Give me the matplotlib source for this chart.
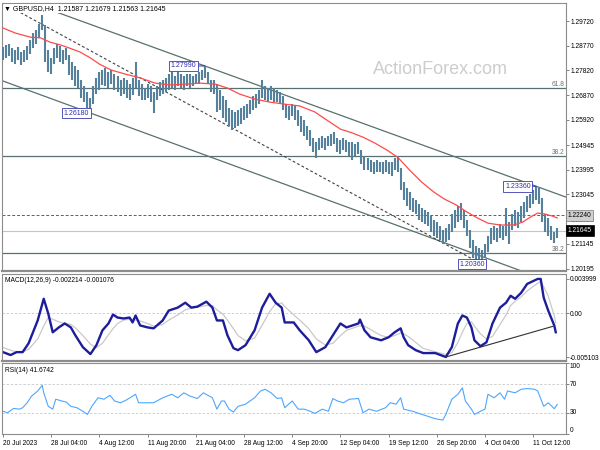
import matplotlib.pyplot as plt
import numpy as np

plt.rcParams['font.family'] = ['Liberation Sans', 'DejaVu Sans']

# GBPUSD H4, one entry per two bars (entry 0 = 20 Jul 2023)
bar_high = [
    1.2872, 1.2880, 1.2883, 1.2868, 1.2860, 1.2872, 1.2853, 1.2860, 1.2876, 1.2899,
    1.2926, 1.2937, 1.2960, 1.2995, 1.2957, 1.2860, 1.2830, 1.2868, 1.2883, 1.2876,
    1.2860, 1.2868, 1.2841, 1.2814, 1.2799, 1.2783, 1.2745, 1.2722, 1.2699, 1.2676,
    1.2722, 1.2753, 1.2776, 1.2783, 1.2791, 1.2776, 1.2783, 1.2768, 1.2760, 1.2745,
    1.2753, 1.2745, 1.2729, 1.2753, 1.2814, 1.2745, 1.2729, 1.2714, 1.2729, 1.2722,
    1.2699, 1.2722, 1.2737, 1.2745, 1.2753, 1.2768, 1.2776, 1.2760, 1.2776, 1.2768,
    1.2760, 1.2768, 1.2768, 1.2760, 1.2768, 1.2776, 1.2783, 1.2799, 1.2776, 1.2745,
    1.2745, 1.2729, 1.2706, 1.2683, 1.2668, 1.2637, 1.2629, 1.2622, 1.2629, 1.2637,
    1.2645, 1.2652, 1.2668, 1.2683, 1.2691, 1.2706, 1.2745, 1.2722, 1.2714, 1.2722,
    1.2714, 1.2706, 1.2699, 1.2683, 1.2652, 1.2645, 1.2652, 1.2645, 1.2629, 1.2606,
    1.2591, 1.2568, 1.2552, 1.2522, 1.2506, 1.2522, 1.2529, 1.2522, 1.2529, 1.2537,
    1.2545, 1.2522, 1.2514, 1.2522, 1.2514, 1.2506, 1.2506, 1.2498, 1.2506, 1.2475,
    1.2452, 1.2445, 1.2437, 1.2429, 1.2437, 1.2429, 1.2429, 1.2437, 1.2429, 1.2429,
    1.2445, 1.2452, 1.2406, 1.2352, 1.2329, 1.2314, 1.2291, 1.2283, 1.2267, 1.2252,
    1.2244, 1.2237, 1.2221, 1.2206, 1.2198, 1.2183, 1.2167, 1.2175, 1.2190, 1.2229,
    1.2244, 1.2260, 1.2271, 1.2244, 1.2206, 1.2167, 1.2129, 1.2106, 1.2098, 1.2090,
    1.2113, 1.2144, 1.2175, 1.2183, 1.2175, 1.2190, 1.2183, 1.2252, 1.2198, 1.2229,
    1.2244, 1.2237, 1.2260, 1.2275, 1.2298, 1.2306, 1.2321, 1.2336, 1.2329, 1.2291,
    1.2229, 1.2214, 1.2183, 1.2159, 1.2175,
]
bar_low = [
    1.2822, 1.2830, 1.2837, 1.2814, 1.2806, 1.2822, 1.2803, 1.2814, 1.2822, 1.2845,
    1.2868, 1.2883, 1.2907, 1.2937, 1.2814, 1.2776, 1.2768, 1.2806, 1.2830, 1.2814,
    1.2806, 1.2822, 1.2764, 1.2745, 1.2722, 1.2714, 1.2676, 1.2660, 1.2637, 1.2618,
    1.2652, 1.2691, 1.2706, 1.2726, 1.2722, 1.2714, 1.2729, 1.2706, 1.2699, 1.2683,
    1.2691, 1.2676, 1.2668, 1.2687, 1.2714, 1.2683, 1.2668, 1.2668, 1.2676, 1.2660,
    1.2618, 1.2668, 1.2683, 1.2691, 1.2699, 1.2706, 1.2714, 1.2706, 1.2722, 1.2714,
    1.2706, 1.2722, 1.2714, 1.2722, 1.2729, 1.2729, 1.2745, 1.2753, 1.2729, 1.2699,
    1.2691, 1.2622, 1.2629, 1.2599, 1.2583, 1.2568, 1.2552, 1.2560, 1.2568, 1.2575,
    1.2591, 1.2599, 1.2614, 1.2629, 1.2637, 1.2652, 1.2676, 1.2668, 1.2660, 1.2668,
    1.2660, 1.2660, 1.2652, 1.2629, 1.2599, 1.2591, 1.2606, 1.2591, 1.2568, 1.2545,
    1.2529, 1.2514, 1.2491, 1.2468, 1.2445, 1.2475, 1.2483, 1.2475, 1.2491, 1.2491,
    1.2498, 1.2468, 1.2460, 1.2475, 1.2468, 1.2452, 1.2437, 1.2452, 1.2460, 1.2421,
    1.2398, 1.2398, 1.2391, 1.2383, 1.2391, 1.2391, 1.2383, 1.2391, 1.2383, 1.2375,
    1.2398, 1.2391, 1.2321, 1.2283, 1.2260, 1.2244, 1.2237, 1.2229, 1.2206, 1.2198,
    1.2190, 1.2183, 1.2159, 1.2144, 1.2137, 1.2129, 1.2113, 1.2121, 1.2129, 1.2159,
    1.2175, 1.2198, 1.2206, 1.2175, 1.2144, 1.2098, 1.2060, 1.2044, 1.2044, 1.2036,
    1.2060, 1.2083, 1.2113, 1.2129, 1.2121, 1.2137, 1.2129, 1.2144, 1.2113, 1.2167,
    1.2183, 1.2175, 1.2198, 1.2214, 1.2237, 1.2252, 1.2267, 1.2283, 1.2267, 1.2198,
    1.2159, 1.2144, 1.2129, 1.2117, 1.2137,
]

# moving average (red)
ma_bar = [0, 8, 18, 25, 31, 38, 44, 51, 58, 64, 72, 81, 91, 101, 111, 121, 131, 141,
          149, 157, 167, 177, 187, 197, 207, 217, 224, 232, 239, 247, 255, 262, 270,
          278, 286, 293, 301, 308, 315, 322, 330, 339, 345, 350, 355, 360, 365, 368]
ma_value = [1.2945, 1.2926, 1.2910, 1.2907, 1.2891, 1.2880, 1.2868, 1.2853, 1.2830,
            1.2806, 1.2783, 1.2768, 1.2753, 1.2733, 1.2726, 1.2729, 1.2733, 1.2729,
            1.2714, 1.2691, 1.2672, 1.2660, 1.2652, 1.2645, 1.2622, 1.2583, 1.2556,
            1.2541, 1.2525, 1.2502, 1.2475, 1.2448, 1.2398, 1.2352, 1.2314, 1.2287,
            1.2264, 1.2237, 1.2214, 1.2194, 1.2187, 1.2187, 1.2198, 1.2217, 1.2233,
            1.2229, 1.2221, 1.2214]

macd_bar = [0, 5, 9, 13, 17, 23, 27, 30, 33, 37, 41, 45, 48, 53, 58, 62, 66, 70, 73,
            76, 80, 84, 86, 88, 91, 96, 100, 106, 110, 116, 121, 125, 129, 135, 139,
            142, 146, 149, 153, 156, 161, 167, 172, 177, 181, 185, 187, 193, 197, 203,
            208, 214, 219, 224, 228, 236, 237, 240, 244, 251, 256, 260, 264, 266, 269,
            274, 279, 287, 294, 298, 302, 305, 308, 311, 313, 317, 321, 325, 330, 334,
            337, 340, 344, 348, 355, 357, 359, 362, 366, 367]
macd_main = [-0.00453, -0.00487, -0.00453, -0.00453, -0.00349, -0.00084, 0.00169,
             -0.00003, -0.00222, -0.00165, -0.00119, -0.00165, -0.00257, -0.00395,
             -0.00476, -0.00372, -0.00199, -0.00119, -0.00015, -0.00050, -0.00061,
             -0.00050, -0.00107, -0.00026, -0.00142, -0.00165, -0.00176, -0.00084,
             0.00031, 0.00066, 0.00123, 0.00066, 0.00077, 0.00135, 0.00066, -0.00084,
             -0.00084, -0.00257, -0.00407, -0.00430, -0.00372, -0.00199, 0.00066,
             0.00227, 0.00123, 0.00066, -0.00107, -0.00107, -0.00199, -0.00315,
             -0.00453, -0.00395, -0.00257, -0.00119, -0.00165, -0.00119, -0.00073,
             -0.00199, -0.00280, -0.00315, -0.00280, -0.00222, -0.00176, -0.00280,
             -0.00372, -0.00430, -0.00464, -0.00464, -0.00510, -0.00395, -0.00119,
             -0.00026, -0.00050, -0.00165, -0.00315, -0.00384, -0.00338, -0.00119,
             0.00066, 0.00123, 0.00204, 0.00169, 0.00238, 0.00342, 0.00400, 0.00400,
             0.00181, 0.00031, -0.00142, -0.00221]
macd_signal = [-0.0040, -0.0043, -0.0045, -0.0045, -0.0042, -0.0030, -0.0015, -0.0005,
               -0.0007, -0.0010, -0.0012, -0.0013, -0.0017, -0.0026, -0.0036, -0.0040,
               -0.0035, -0.0025, -0.0018, -0.0012, -0.0008, -0.0007, -0.0007, -0.0008,
               -0.0009, -0.0012, -0.0015, -0.0013, -0.0008, -0.0002, 0.0004, 0.0006,
               0.0007, 0.0009, 0.0009, 0.0004, -0.0001, -0.0008, -0.0018, -0.0026,
               -0.0032, -0.0029, -0.0014, 0.0002, 0.0011, 0.0012, 0.0008, -0.0002,
               -0.0008, -0.0018, -0.0030, -0.0037, -0.0035, -0.0026, -0.0020, -0.0015,
               -0.0015, -0.0015, -0.0019, -0.0026, -0.0028, -0.0026, -0.0023, -0.0024,
               -0.0027, -0.0034, -0.0041, -0.0045, -0.0048, -0.0046, -0.0034, -0.0022,
               -0.0012, -0.0010, -0.0015, -0.0024, -0.0030, -0.0027, -0.0013, -0.0002,
               0.0009, 0.0014, 0.0019, 0.0026, 0.0035, 0.0037, 0.0031, 0.0020, -0.0003,
               -0.0011]

rsi_bar = [0, 3, 7, 11, 13, 16, 19, 23, 26, 27, 30, 33, 35, 39, 42, 45, 49, 53, 56,
           59, 63, 67, 71, 74, 78, 82, 88, 90, 95, 100, 106, 112, 116, 120, 124, 129,
           133, 139, 142, 145, 147, 150, 153, 156, 161, 167, 171, 174, 178, 182, 185,
           187, 192, 196, 200, 204, 207, 212, 216, 219, 222, 226, 230, 236, 239, 243,
           248, 254, 257, 261, 264, 266, 272, 276, 282, 287, 292, 294, 298, 302, 305,
           307, 311, 313, 317, 320, 322, 326, 330, 333, 335, 340, 344, 348, 353, 355,
           359, 362, 366, 368]
rsi_value = [32, 30, 36, 35, 37, 44, 53.5, 60.6, 68.6, 58, 39, 35, 49, 46.5, 45, 39,
             37, 32, 27.6, 39, 51, 49, 54.5, 46.5, 44, 48, 56, 44, 44, 44, 51, 56, 51,
             58, 53.5, 50, 58, 51, 35, 46.5, 46.5, 35, 31, 39, 42, 51, 60.6, 63, 58,
             50, 51, 37, 46.5, 35, 35, 32, 29, 35, 32, 50, 46.5, 44, 49, 50, 30, 35,
             32, 37, 44, 42, 51, 35, 32, 29, 25, 21.5, 19.6, 27.6, 49, 56, 65, 46.5,
             35, 27.6, 32, 35, 56, 51, 58, 49, 60.6, 58, 63, 64, 63, 60.6, 39, 44,
             35.6, 41.7]

price_ticks = [1.29720, 1.28770, 1.27820, 1.26870, 1.25920, 1.24945, 1.23995,
               1.23045, 1.22095, 1.21145, 1.20195]
date_labels = ["20 Jul 2023", "28 Jul 04:00", "4 Aug 12:00", "11 Aug 20:00",
               "21 Aug 04:00", "28 Aug 12:00", "4 Sep 20:00", "12 Sep 04:00",
               "19 Sep 12:00", "26 Sep 20:00", "4 Oct 04:00", "11 Oct 12:00"]
fib_levels = [1.2713, 1.2452, 1.2078]
fib_names = ["61.8", "38.2", "38.2"]
swing_bar = [134, 58, 354, 318]
swing_price = [1.27990, 1.26180, 1.23360, 1.20360]
channel_upper = ([134, 354], [1.2799, 1.2336])
channel_lower = ([0, 341], [1.2741, 1.2017])
dash_trend = ([0, 318], [1.3041, 1.2036])
macd_trend = ([294, 365], [-0.00510, -0.00153])
level_dashed = 1.22240
last_close = 1.21645

BAR_COLOR = '#55819c'
LINE_GREY = '#587070'
SPINE = '#8c8c8c'
FS = 4.8

W, H = 600, 450


def rect(top, bottom, left=2, right=566):
    return [left / W, 1 - bottom / H, (right - left) / W, (bottom - top) / H]


def extend(pts, x0, x1):
    (xa, xb), (ya, yb) = pts
    k = (yb - ya) / (xb - xa)
    return [x0, x1], [ya + k * (x0 - xa), ya + k * (x1 - xa)]


fig = plt.figure(figsize=(6, 4.5), dpi=100)
ax = fig.add_axes(rect(3, 271))
ax_macd = fig.add_axes(rect(274, 361), sharex=ax)
ax_rsi = fig.add_axes(rect(363, 434), sharex=ax)
xmin, xmax = -0.7, 373.8

for a in (ax, ax_macd, ax_rsi):
    for s in a.spines.values():
        s.set_color(SPINE)
        s.set_linewidth(0.8)
    a.yaxis.tick_right()
    a.tick_params(axis='y', labelsize=FS, length=2, width=0.5, pad=1,
                  colors='#505050', labelcolor='black')
    a.tick_params(axis='x', bottom=False, labelbottom=False)
ax.spines['bottom'].set_linewidth(1.6)
ax_macd.spines['bottom'].set_linewidth(1.6)

# ---- price panel
x_bars = np.arange(len(bar_high)) * 2
ax.vlines(x_bars, bar_low, bar_high, color=BAR_COLOR, lw=1.5, zorder=3)
ax.plot(ma_bar, ma_value, color='#ff4a4a', lw=0.9, zorder=4)

for lv, nm in zip(fib_levels, fib_names):
    ax.axhline(lv, color=LINE_GREY, lw=0.9, zorder=2)
    ax.text(0.998, lv, nm, transform=ax.get_yaxis_transform(), ha='right',
            va='bottom', fontsize=FS, color='#707070')
ax.axhline(level_dashed, color='#606060', lw=0.7, ls=(0, (3, 2)), zorder=2)
ax.axhline(last_close, color='#c4c4c4', lw=0.8, zorder=2)

for pts in (channel_upper, channel_lower):
    xs, ys = extend(pts, xmin, xmax)
    ax.plot(xs, ys, color=LINE_GREY, lw=0.9, zorder=2)
xs, ys = extend(dash_trend, dash_trend[0][0], dash_trend[0][1])
ax.plot(xs, ys, color='#404040', lw=0.8, ls=(0, (2.5, 2)), zorder=2)

for b, p, dx in zip(swing_bar, swing_price, [-6, -1, -4, 2]):
    ax.annotate(f"{p:.5f}", xy=(b, p), xytext=(dx, 0), textcoords='offset points',
                ha='right', va='center', fontsize=5, color='#2e2eb0', zorder=6,
                bbox=dict(boxstyle='square,pad=0.25', fc='white', ec='#3a3ab0', lw=0.6),
                arrowprops=dict(arrowstyle='-', color='#2e2eb0', lw=0.7,
                                shrinkA=0, shrinkB=0))

ax.text(0.777, 0.75, "ActionForex.com", transform=ax.transAxes, ha='center',
        va='center', fontsize=13, color='#cdcdcd', zorder=1)
ax.text(0.004, 0.992, "\u25bc GBPUSD,H4  1.21587 1.21679 1.21563 1.21645",
        transform=ax.transAxes, ha='left', va='top', fontsize=5, zorder=7,
        bbox=dict(boxstyle='square,pad=0.1', fc='white', ec='none'))

ax.set_yticks(price_ticks)
ax.set_yticklabels([f"{t:.5f}" for t in price_ticks])
ax.set_ylim(1.2010, 1.30413)
ax.set_xlim(xmin, xmax)

ax.text(1.003, level_dashed, f"{level_dashed:.5f}", transform=ax.get_yaxis_transform(),
        ha='left', va='center', fontsize=FS, color='black', clip_on=False, zorder=8,
        bbox=dict(boxstyle='square,pad=0.3', fc='#d0d0d0', ec='#7a7a7a', lw=0.5))
ax.text(1.003, last_close, f"{last_close:.5f}", transform=ax.get_yaxis_transform(),
        ha='left', va='center', fontsize=FS, color='white', clip_on=False, zorder=8,
        bbox=dict(boxstyle='square,pad=0.3', fc='black', ec='black', lw=0.5))

# ---- MACD panel
ax_macd.axhline(0, color='#c8c8c8', lw=0.6, ls=(0, (3, 2)))
ax_macd.plot(macd_bar, macd_signal, color='#c9c9c9', lw=0.9)
ax_macd.plot(macd_bar, macd_main, color='#1c1c9c', lw=1.7)
xs, ys = extend(macd_trend, macd_trend[0][0], macd_trend[0][1])
ax_macd.plot(xs, ys, color='#303030', lw=0.8)
ax_macd.set_ylim(-0.005564, 0.004575)
ax_macd.set_yticks([0.003999, 0.0, -0.005103])
ax_macd.set_yticklabels(["0.003999", "0.00", "-0.005103"])
ax_macd.text(0.006, 0.93, "MACD(12,26,9) -0.002214 -0.001076",
             transform=ax_macd.transAxes, ha='left', va='center', fontsize=FS)

# ---- RSI panel
for lv in (70, 30):
    ax_rsi.axhline(lv, color='#c8c8c8', lw=0.6, ls=(0, (3, 2)))
ax_rsi.plot(rsi_bar, rsi_value, color='#4ea6ff', lw=0.8)
ax_rsi.set_ylim(0, 100)
ax_rsi.set_yticks([100, 70, 30, 0])
ax_rsi.set_yticklabels([])
rt = ax_rsi.get_yaxis_transform()
for v, va in ((100, 'top'), (70, 'center'), (30, 'center'), (0, 'bottom')):
    ax_rsi.text(1.007, v, str(v), transform=rt, ha='left', va=va, fontsize=FS,
                clip_on=False)
ax_rsi.text(0.006, 0.89, "RSI(14) 41.6742", transform=ax_rsi.transAxes,
            ha='left', va='center', fontsize=FS)

ax_rsi.set_xticks(np.arange(len(date_labels)) * 32)
ax_rsi.set_xticklabels(date_labels, ha='left')
ax_rsi.tick_params(axis='x', bottom=True, labelbottom=True, labelsize=FS,
                   length=2, width=0.5, pad=2.5, colors='#505050',
                   labelcolor='black')

fig.savefig('out.png', dpi=100)
